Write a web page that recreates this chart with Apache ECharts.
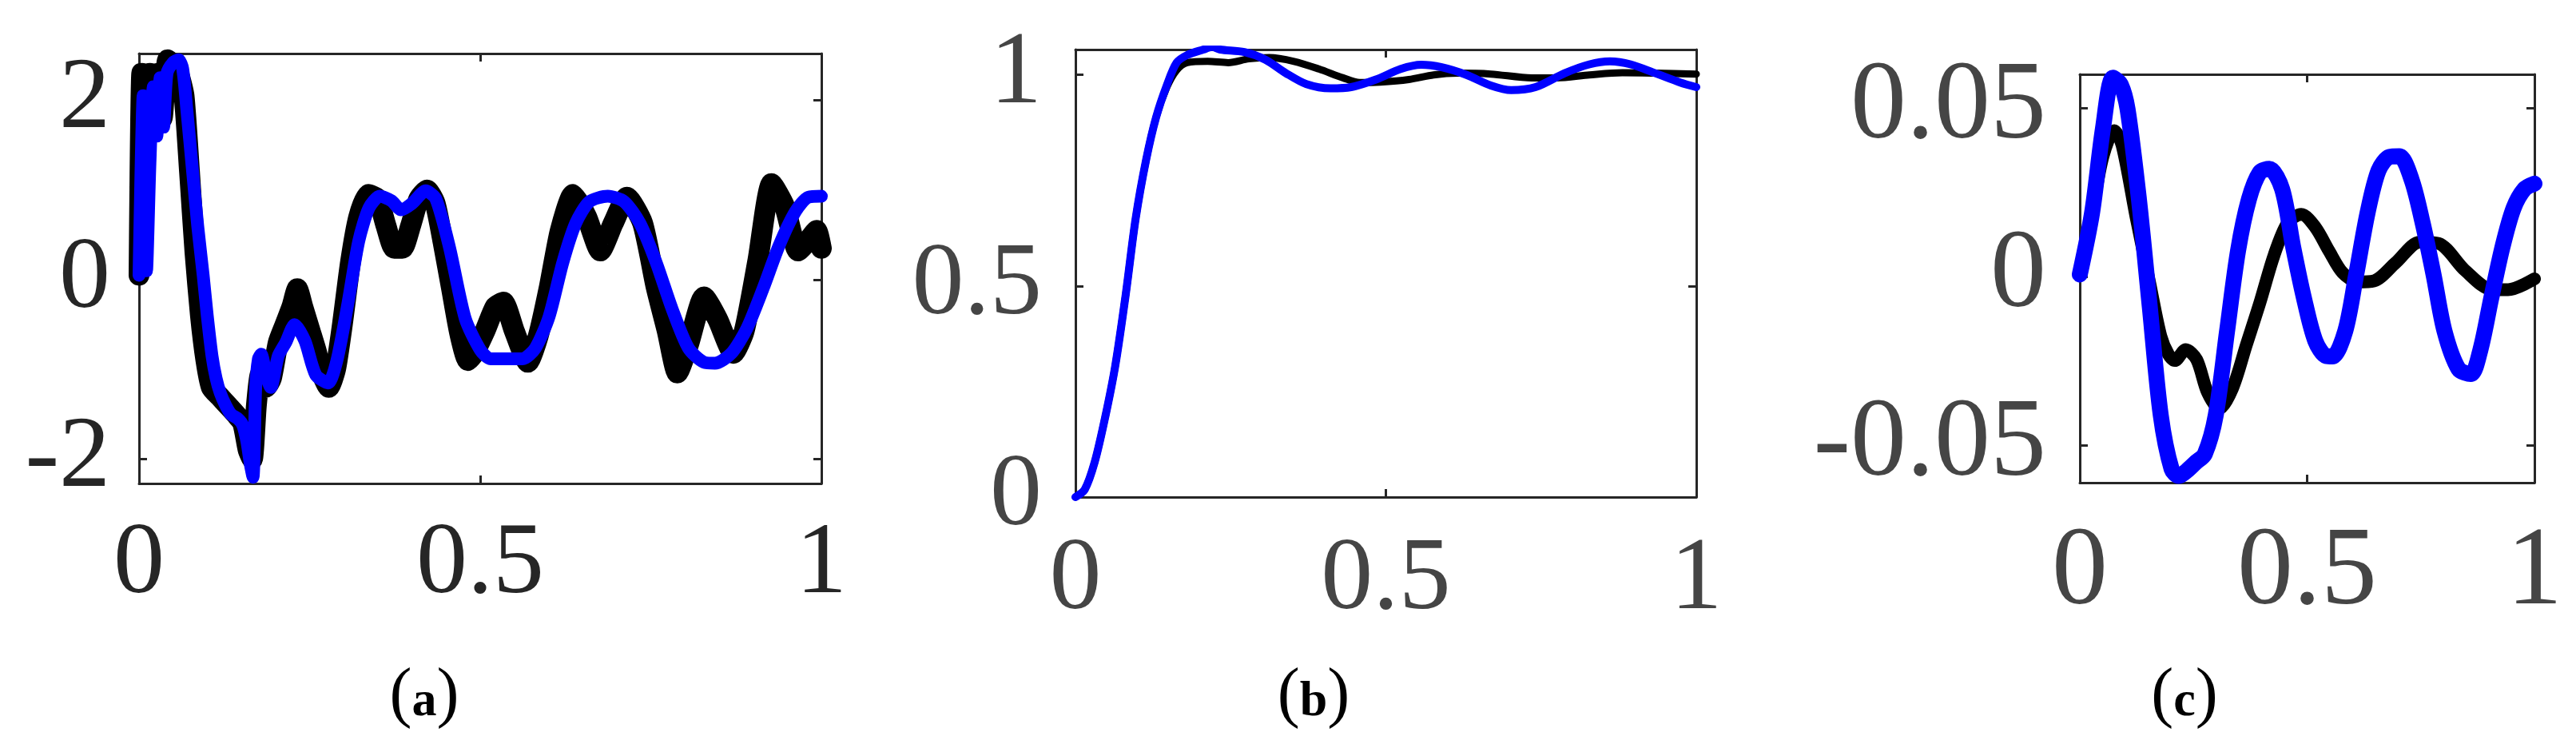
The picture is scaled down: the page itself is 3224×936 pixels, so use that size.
<!DOCTYPE html>
<html>
<head>
<meta charset="utf-8">
<title>Response comparison</title>
<script src="https://cdn.jsdelivr.net/npm/echarts@6.0.0/dist/echarts.min.js"></script>
<style>
  html, body { margin: 0; padding: 0; background: #fff; }
  #chart { width: 3224px; height: 936px; }
</style>
</head>
<body>
<div id="chart"></div>
<script>
// panel (a): noisy reference (black) and fitted response (blue)
const aBlackT = [0, 0.004, 0.01, 0.016, 0.022, 0.028, 0.034, 0.042, 0.05, 0.058, 0.066, 0.074, 0.082, 0.09, 0.098, 0.106, 0.118, 0.13, 0.142, 0.152, 0.16, 0.166, 0.172, 0.178, 0.186, 0.194, 0.204, 0.214, 0.224, 0.232, 0.24, 0.25, 0.26, 0.268, 0.278, 0.288, 0.298, 0.31, 0.322, 0.336, 0.35, 0.362, 0.374, 0.386, 0.398, 0.41, 0.422, 0.434, 0.446, 0.458, 0.47, 0.482, 0.491, 0.507, 0.522, 0.534, 0.55, 0.57, 0.585, 0.601, 0.617, 0.636, 0.656, 0.676, 0.695, 0.715, 0.738, 0.758, 0.774, 0.789, 0.805, 0.828, 0.848, 0.871, 0.887, 0.907, 0.927, 0.946, 0.966, 0.981, 0.993, 1.0];
const aBlackV = [0.05, 2.3, 1.8, 2.3, 1.75, 2.3, 1.8, 2.45, 2.4, 2.3, 2.05, 1.2, 0.3, -0.4, -0.9, -1.2, -1.3, -1.4, -1.5, -1.6, -1.9, -2.0, -1.4, -1.05, -1.2, -1.1, -0.7, -0.5, -0.3, -0.1, -0.3, -0.55, -0.8, -1.05, -1.2, -1.0, -0.5, 0.2, 0.7, 0.95, 0.9, 0.6, 0.35, 0.35, 0.6, 0.9, 1.0, 0.85, 0.4, -0.1, -0.6, -0.9, -0.82, -0.57, -0.3, -0.25, -0.57, -0.92, -0.63, -0.09, 0.54, 0.95, 0.7, 0.32, 0.63, 0.92, 0.63, -0.09, -0.57, -1.04, -0.73, -0.19, -0.44, -0.82, -0.57, 0.22, 1.07, 0.82, 0.32, 0.44, 0.55, 0.35];
const aBlueT = [0, 0.006, 0.011, 0.016, 0.021, 0.026, 0.031, 0.036, 0.041, 0.05, 0.058, 0.064, 0.07, 0.078, 0.086, 0.094, 0.1, 0.107, 0.113, 0.119, 0.127, 0.135, 0.145, 0.152, 0.158, 0.163, 0.167, 0.171, 0.175, 0.179, 0.186, 0.193, 0.204, 0.215, 0.228, 0.243, 0.259, 0.277, 0.29, 0.306, 0.322, 0.337, 0.353, 0.37, 0.384, 0.4, 0.42, 0.435, 0.455, 0.478, 0.5, 0.515, 0.562, 0.581, 0.601, 0.621, 0.64, 0.66, 0.687, 0.711, 0.734, 0.758, 0.781, 0.805, 0.828, 0.844, 0.868, 0.891, 0.915, 0.938, 0.962, 0.981, 1.0];
const aBlueV = [0.05, 2.05, 0.1, 1.3, 2.15, 1.6, 2.25, 1.7, 2.3, 2.42, 2.45, 2.35, 1.9, 1.25, 0.6, 0.05, -0.4, -0.85, -1.1, -1.26, -1.4, -1.5, -1.55, -1.62, -1.8, -2.05, -2.2, -1.2, -0.88, -0.83, -1.05, -1.2, -0.85, -0.7, -0.5, -0.68, -1.06, -1.15, -0.9, -0.27, 0.43, 0.8, 0.93, 0.88, 0.78, 0.85, 0.99, 0.9, 0.36, -0.43, -0.78, -0.88, -0.88, -0.76, -0.41, 0.19, 0.63, 0.87, 0.93, 0.87, 0.63, 0.19, -0.32, -0.76, -0.92, -0.93, -0.82, -0.54, -0.09, 0.38, 0.76, 0.92, 0.93];

// panel (b): step responses
const bBlackT = [0, 0.015, 0.031, 0.048, 0.064, 0.081, 0.097, 0.114, 0.13, 0.147, 0.163, 0.18, 0.213, 0.246, 0.279, 0.312, 0.352, 0.392, 0.431, 0.458, 0.491, 0.537, 0.577, 0.616, 0.669, 0.735, 0.775, 0.828, 0.881, 0.934, 1.0];
const bBlackV = [0, 0.018, 0.083, 0.19, 0.31, 0.48, 0.66, 0.8, 0.9, 0.97, 1.011, 1.029, 1.032, 1.029, 1.038, 1.041, 1.032, 1.014, 0.993, 0.982, 0.983, 0.989, 1.0, 1.004, 1.002, 0.993, 0.993, 1.0, 1.005, 1.004, 1.002];
const bBlueT = [0, 0.015, 0.031, 0.048, 0.064, 0.081, 0.097, 0.114, 0.13, 0.147, 0.163, 0.18, 0.206, 0.22, 0.233, 0.272, 0.306, 0.339, 0.372, 0.411, 0.444, 0.484, 0.524, 0.557, 0.59, 0.63, 0.669, 0.702, 0.741, 0.788, 0.828, 0.861, 0.894, 0.934, 0.974, 1.0];
const bBlueV = [0, 0.018, 0.083, 0.19, 0.31, 0.48, 0.66, 0.8, 0.9, 0.975, 1.029, 1.047, 1.06, 1.066, 1.06, 1.054, 1.036, 1.004, 0.978, 0.968, 0.971, 0.989, 1.014, 1.024, 1.018, 1.0, 0.975, 0.964, 0.971, 1.004, 1.025, 1.032, 1.025, 1.004, 0.982, 0.971];

// panel (c): error signals
const cBlackT = [0, 0.027, 0.051, 0.076, 0.093, 0.124, 0.154, 0.178, 0.195, 0.209, 0.233, 0.257, 0.281, 0.307, 0.336, 0.366, 0.396, 0.427, 0.457, 0.487, 0.518, 0.548, 0.578, 0.612, 0.647, 0.695, 0.748, 0.789, 0.848, 0.907, 0.942, 1.0];
const cBlackV = [0.0007, 0.019, 0.0357, 0.0433, 0.039, 0.0175, -0.002, -0.0175, -0.023, -0.0248, -0.0216, -0.0245, -0.0343, -0.039, -0.033, -0.0203, -0.0077, 0.0063, 0.016, 0.0185, 0.0147, 0.0077, 0.0012, -0.0015, -0.0012, 0.0042, 0.0103, 0.0099, 0.0018, -0.0038, -0.0038, -0.0006];
const cBlueT = [0, 0.027, 0.051, 0.073, 0.09, 0.105, 0.13, 0.154, 0.178, 0.202, 0.218, 0.235, 0.255, 0.275, 0.299, 0.324, 0.348, 0.372, 0.396, 0.417, 0.445, 0.469, 0.493, 0.518, 0.542, 0.556, 0.584, 0.608, 0.633, 0.657, 0.681, 0.703, 0.73, 0.754, 0.778, 0.802, 0.833, 0.86, 0.881, 0.905, 0.93, 0.954, 0.978, 1.0];
const cBlueV = [0.0007, 0.019, 0.044, 0.059, 0.057, 0.0497, 0.023, -0.009, -0.041, -0.057, -0.059, -0.0575, -0.055, -0.0525, -0.041, -0.016, 0.0077, 0.023, 0.031, 0.032, 0.026, 0.009, -0.0063, -0.019, -0.0235, -0.0236, -0.016, 0.0007, 0.019, 0.0315, 0.0355, 0.0357, 0.0287, 0.016, 0.0007, -0.016, -0.0273, -0.0288, -0.0217, -0.0063, 0.009, 0.0203, 0.026, 0.0276];

// axes
const xTicks = [0, 0.5, 1];
const aYTicks = [-2, 0, 2];
const bYTicks = [0, 0.5, 1];
const cYTicks = [-0.05, 0, 0.05];
const captions = ['a', 'b', 'c'];

const zip = (t, v) => t.map((x, i) => [x, v[i]]);

const boxColor = '#262626';
const serif = "'Liberation Serif', 'Times New Roman', serif";

const panels = [
  { grid: { left: 174, top: 67, width: 854, height: 538 }, yMin: -2.27, yMax: 2.52, yTicks: aYTicks,
    font: 128, color: '#262626', yMargin: 36, xMargin: 38, capX: 531,
    lines: [[aBlackT, aBlackV, '#000', 26, 0.2], [aBlueT, aBlueV, '#0000ff', 16, 0.25]] },
  { grid: { left: 1346, top: 62, width: 777, height: 560 }, yMin: 0, yMax: 1.06, yTicks: bYTicks,
    font: 130, color: '#454545', yMargin: 42, xMargin: 40, capX: 1644,
    lines: [[bBlackT, bBlackV, '#000', 9, 0.3], [bBlueT, bBlueV, '#0000ff', 10, 0.3]] },
  { grid: { left: 2603, top: 93, width: 569, height: 511 }, yMin: -0.061, yMax: 0.06, yTicks: cYTicks,
    font: 140, color: '#454545', yMargin: 42, xMargin: 44, capX: 2734,
    lines: [[cBlackT, cBlackV, '#000', 16, 0.3], [cBlueT, cBlueV, '#0000ff', 20, 0.3]] }
];

function axisPart(showLabel, p, values, margin) {
  return {
    axisLine: { onZero: false, lineStyle: { color: boxColor, width: 3 } },
    axisTick: { inside: true, length: 10, customValues: values, lineStyle: { color: boxColor, width: 3 } },
    axisLabel: { show: showLabel, customValues: values, margin: margin,
      fontFamily: serif, fontSize: p.font, color: p.color },
    splitLine: { show: false }
  };
}

const option = { animation: false, backgroundColor: '#fff', grid: [], xAxis: [], yAxis: [], series: [], graphic: [] };

panels.forEach((p, i) => {
  option.grid.push(p.grid);
  // bottom + top x axes, left + right y axes make the closed box
  option.xAxis.push(Object.assign({ type: 'value', gridIndex: i, min: 0, max: 1, position: 'bottom' },
    axisPart(true, p, xTicks, p.xMargin)));
  option.xAxis.push(Object.assign({ type: 'value', gridIndex: i, min: 0, max: 1, position: 'top' },
    axisPart(false, p, xTicks, 0)));
  option.yAxis.push(Object.assign({ type: 'value', gridIndex: i, min: p.yMin, max: p.yMax, position: 'left' },
    axisPart(true, p, p.yTicks, p.yMargin)));
  option.yAxis.push(Object.assign({ type: 'value', gridIndex: i, min: p.yMin, max: p.yMax, position: 'right' },
    axisPart(false, p, p.yTicks, 0)));
  p.lines.forEach(l => {
    option.series.push({
      type: 'line', xAxisIndex: i * 2, yAxisIndex: i * 2, data: zip(l[0], l[1]),
      showSymbol: false, smooth: l[4], clip: true,
      lineStyle: { color: l[2], width: l[3], cap: 'round', join: 'round' }
    });
  });
  option.graphic.push({
    type: 'text', x: p.capX, y: 872,
    style: {
      text: '{p|(}{b|' + captions[i] + '}{p|)}', align: 'center', verticalAlign: 'middle',
      rich: {
        p: { fontFamily: serif, fontSize: 84, fill: '#000', verticalAlign: 'bottom' },
        b: { fontFamily: serif, fontSize: 62, fontWeight: 'bold', fill: '#000', verticalAlign: 'bottom', padding: [0, 0, 4, 0] }
      }
    }
  });
});

const chart = echarts.init(document.getElementById('chart'));
chart.setOption(option);
</script>
</body>
</html>
